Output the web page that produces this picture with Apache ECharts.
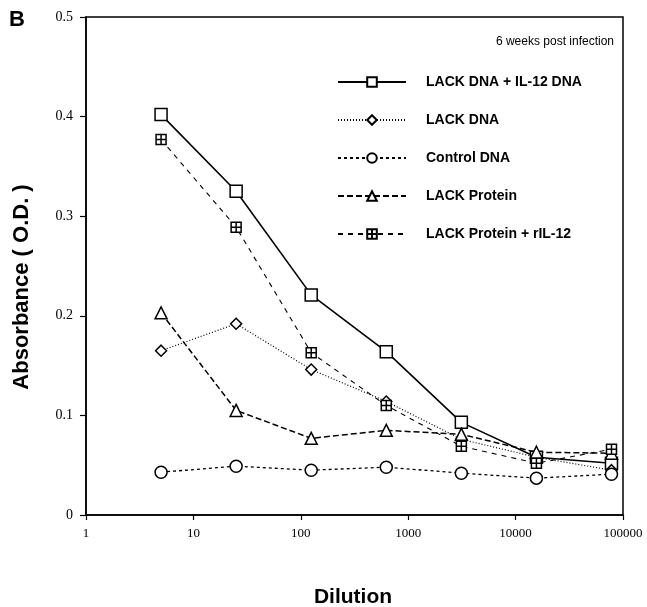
<!DOCTYPE html>
<html><head><meta charset="utf-8">
<script src="https://cdn.jsdelivr.net/npm/echarts@6/dist/echarts.min.js"></script>
<style>html,body{margin:0;padding:0;background:#fff}#c{width:647px;height:607px}</style>
</head><body><div id="c"></div>
<script>
const dilutions = [5, 25, 125, 625, 3125, 15625, 78125];
const lackIl12Dna = [0.402, 0.325, 0.221, 0.164, 0.093, 0.058, 0.052];
const lackDna = [0.165, 0.192, 0.146, 0.114, 0.076, 0.058, 0.045];
const controlDna = [0.043, 0.049, 0.045, 0.048, 0.042, 0.037, 0.041];
const lackProtein = [0.203, 0.105, 0.077, 0.085, 0.081, 0.063, 0.062];
const lackProteinRil12 = [0.377, 0.289, 0.163, 0.110, 0.069, 0.052, 0.066];
const seriesNames = ['LACK DNA + IL-12 DNA', 'LACK DNA', 'Control DNA', 'LACK Protein', 'LACK Protein + rIL-12'];
const xTicks = [1, 10, 100, 1000, 10000, 100000];
const yTicks = [0, 0.1, 0.2, 0.3, 0.4, 0.5];

const pairs = v => dilutions.map((d, i) => [d, v[i]]);
const boxplus = 'path://M0,0H10V10H0Z M5,0V10 M0,5H10';
const mk = (name, vals, symbol, size, lineType, lw) => ({
  name, type: 'line', data: pairs(vals), symbol, symbolSize: size,
  lineStyle: { color: '#000', width: lw, type: lineType },
  itemStyle: { color: '#fff', borderColor: '#000', borderWidth: 1.5 },
  emphasis: { disabled: true }, animation: false, z: 3
});

const chart = echarts.init(document.getElementById('c'));
chart.setOption({
  animation: false,
  grid: { left: 86, right: 24, top: 17, bottom: 92, show: true, borderColor: '#000', borderWidth: 1.5 },
  xAxis: {
    type: 'log', logBase: 10, min: 1, max: 100000,
    axisLine: { lineStyle: { color: '#000', width: 1.5 } },
    axisTick: { show: true, length: 5, lineStyle: { color: '#000', width: 1.2 } },
    axisLabel: { fontFamily: 'Liberation Serif', fontSize: 13, color: '#000', margin: 12,
      formatter: v => xTicks.includes(v) ? String(v) : '' },
    splitLine: { show: false }, minorTick: { show: false }
  },
  yAxis: {
    type: 'value', min: 0, max: 0.5, interval: 0.1,
    axisLine: { show: true, lineStyle: { color: '#000', width: 1.5 } },
    axisTick: { show: true, length: 6, lineStyle: { color: '#000', width: 1.2 } },
    axisLabel: { fontFamily: 'Liberation Serif', fontSize: 14, color: '#000', margin: 13,
      formatter: v => { const t = yTicks.find(x => Math.abs(x - v) < 1e-9); return t === undefined ? '' : String(t); } },
    splitLine: { show: false }
  },
  legend: {
    orient: 'vertical', left: 337, top: 75, padding: 0, itemWidth: 68, itemHeight: 12, itemGap: 24,
    data: seriesNames,
    textStyle: { fontFamily: 'Liberation Sans', fontWeight: 'bold', fontSize: 14, color: '#000', padding: [0, 0, 0, 15] },
    selectedMode: false
  },
  graphic: [
    { type: 'text', left: 9, top: 9, style: { text: 'B', font: 'bold 22px "Liberation Sans"', fill: '#000' } },
    { type: 'text', right: 33, top: 36, style: { text: '6 weeks post infection', font: '12px "Liberation Sans"', fill: '#000' } },
    { type: 'text', x: 22, y: 287, rotation: Math.PI / 2,
      style: { text: 'Absorbance ( O.D. )', font: 'bold 22px "Liberation Sans"', fill: '#000', align: 'center', verticalAlign: 'middle' } },
    { type: 'text', x: 353, y: 597,
      style: { text: 'Dilution', font: 'bold 21px "Liberation Sans"', fill: '#000', align: 'center', verticalAlign: 'middle' } }
  ],
  series: [
    mk(seriesNames[0], lackIl12Dna, 'rect', 12, 'solid', 1.6),
    mk(seriesNames[1], lackDna, 'diamond', 11, [1, 2], 1.2),
    mk(seriesNames[2], controlDna, 'circle', 12, [3, 3], 1.3),
    mk(seriesNames[3], lackProtein, 'triangle', 12, [6, 3], 1.5),
    mk(seriesNames[4], lackProteinRil12, boxplus, 10, [5, 5], 1.1)
  ]
});
</script></body></html>
